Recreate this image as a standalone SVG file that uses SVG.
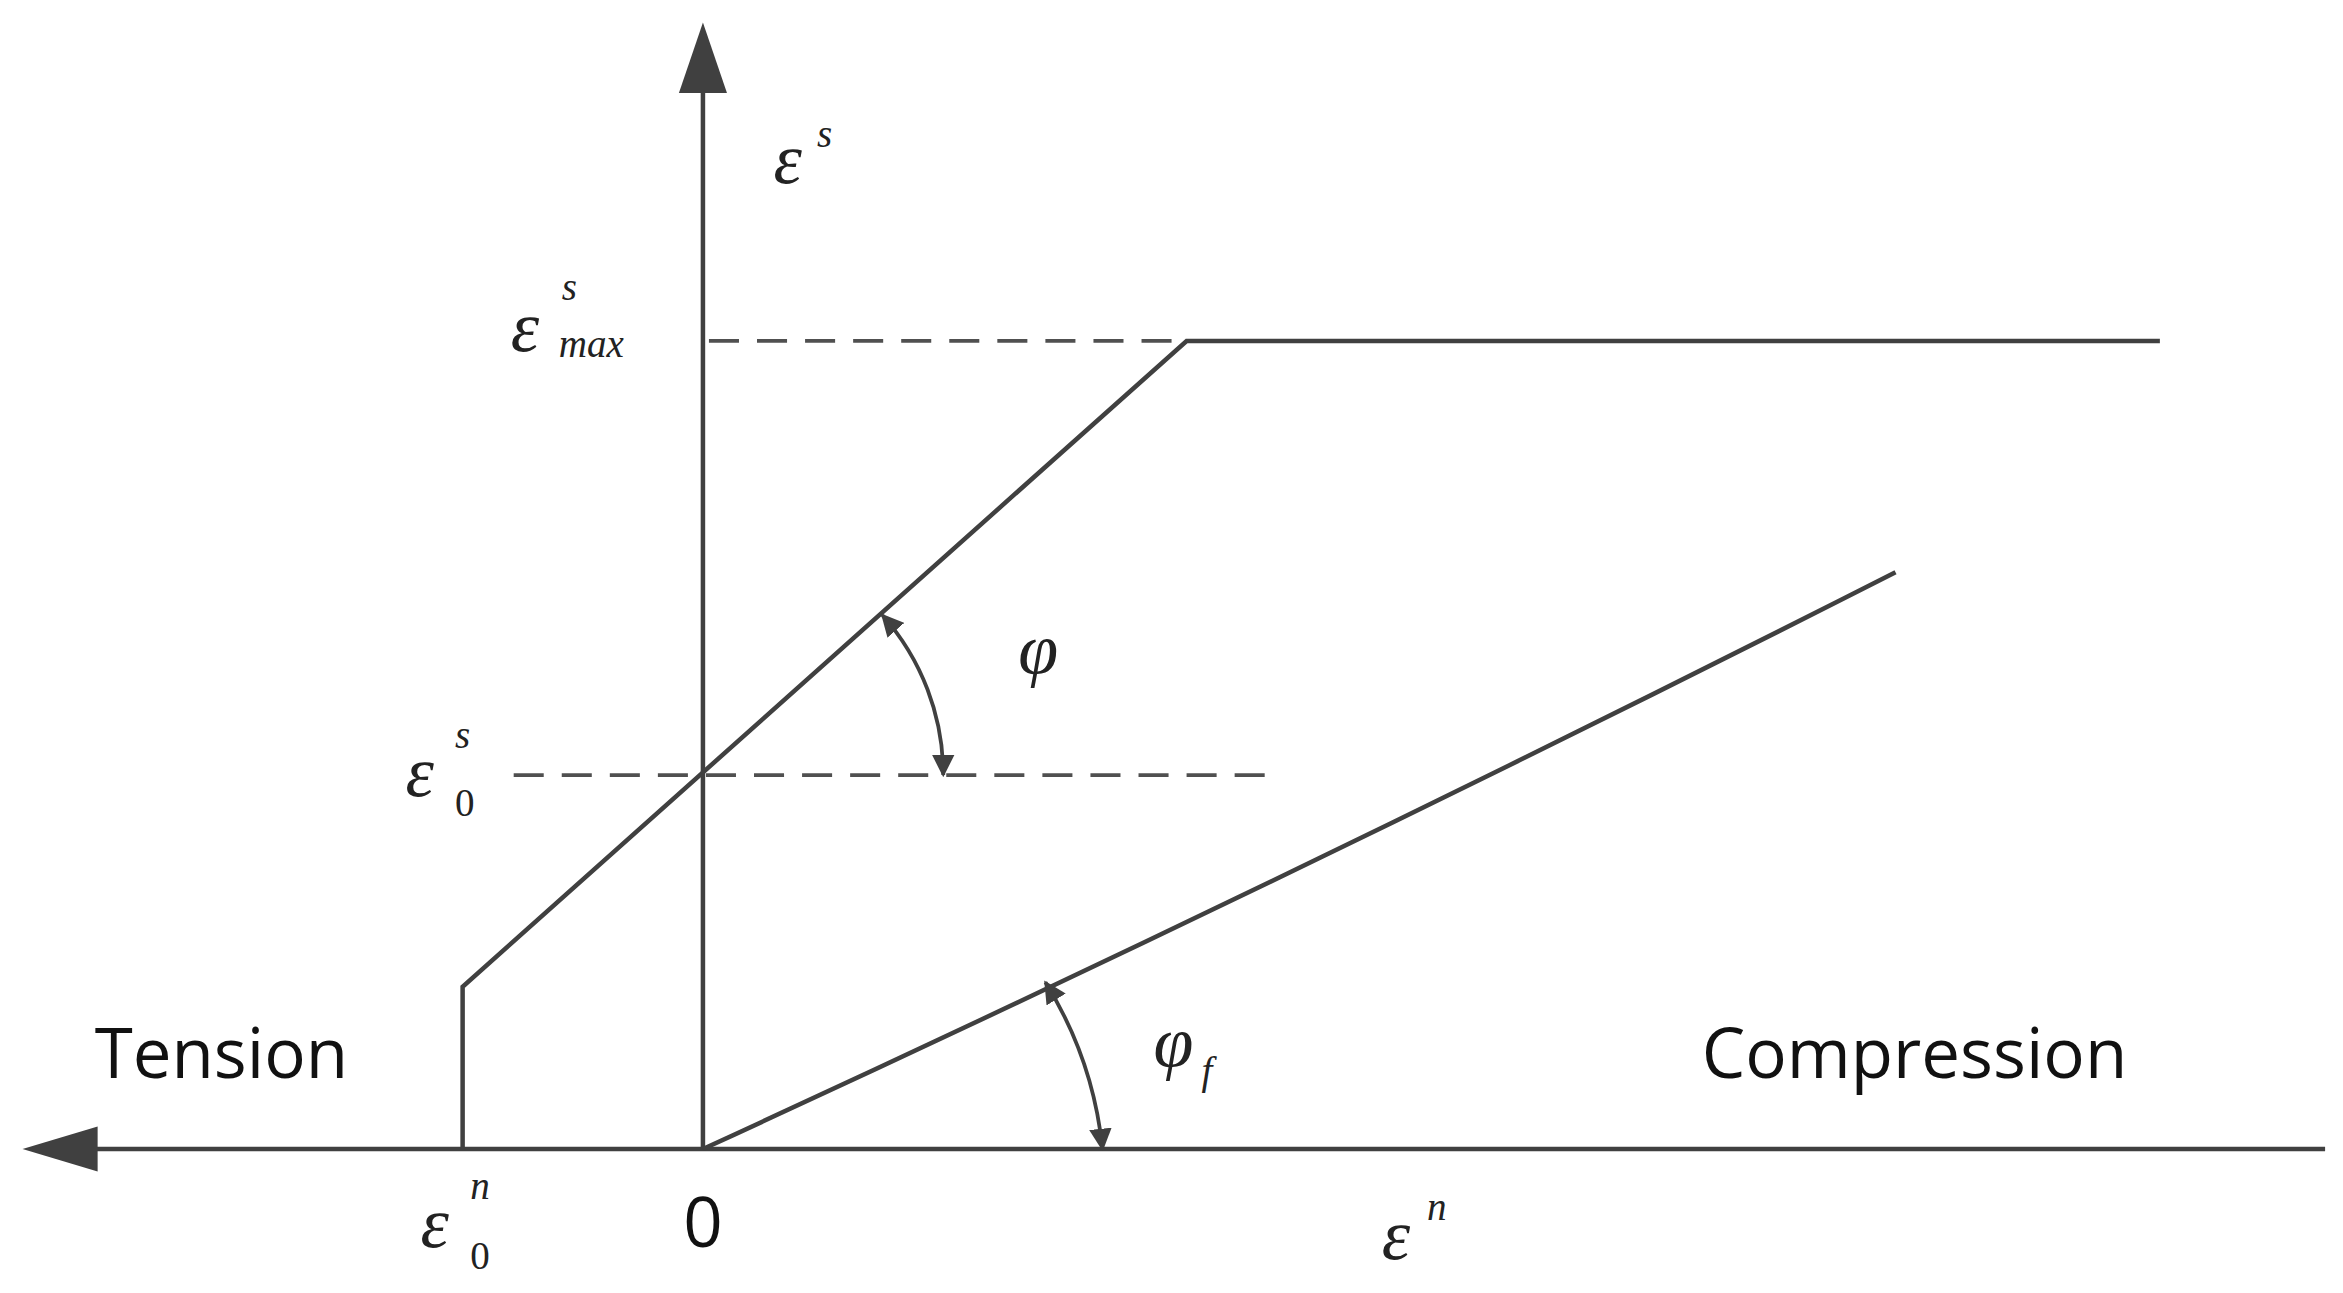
<svg xmlns="http://www.w3.org/2000/svg" width="2343" height="1293" viewBox="0 0 2343 1293">
<style>
.ln{stroke:#404040;stroke-width:3;fill:none}
.arc{stroke:#404040;stroke-width:2.5;fill:none}
.dash{stroke:#505050;stroke-width:2.5;fill:none;stroke-dasharray:20 12}
.m{font-family:"Liberation Serif",serif;font-style:italic;fill:#222;font-size:48px}
.s{font-family:"Liberation Serif",serif;font-style:italic;fill:#222;font-size:26px}
.n{font-family:"Liberation Serif",serif;fill:#222;font-size:26px}
.t{font-family:"Open Sans","Noto Sans",sans-serif;fill:#111;font-size:46px}
</style>
<defs>
<marker id="ah" viewBox="0 0 10 10" refX="9" refY="5" markerWidth="6" markerHeight="6" markerUnits="strokeWidth" orient="auto-start-reverse">
<path d="M0,0 L10,5 L0,10 z" fill="#404040"/>
</marker>
</defs>
<rect width="2343" height="1293" fill="#fff"/>
<g transform="scale(1.502)">
<g id="connectors">
<line class="ln" x1="468" y1="765" x2="468" y2="60"/>
<polygon points="468,15 452,62 484,62" fill="#404040"/>
<line class="ln" x1="60" y1="765" x2="1548" y2="765"/>
<polygon points="15,765 65,750 65,780" fill="#404040"/>
<line class="dash" x1="472" y1="227" x2="790" y2="227"/>
<line class="dash" x1="342" y1="516" x2="850" y2="516"/>
<polyline class="ln" points="308,765 308,657 790,227 1438,227"/>
<path class="ln" d="M468,765 Q860,585 1262,381"/>
<path class="arc" d="M587.5,409.6 A160,160 0 0 1 628,516" marker-start="url(#ah)" marker-end="url(#ah)"/>
<path class="arc" d="M696,654 A260,260 0 0 1 734,765" marker-start="url(#ah)" marker-end="url(#ah)"/>
</g>
<g id="label-es"><text class="m" x="515" y="122">ε</text><text class="s" x="544" y="98">s</text></g>
<g id="label-esmax"><text class="m" x="340" y="234">ε</text><text class="s" x="374" y="200">s</text><text class="s" x="372" y="238">max</text></g>
<g id="label-e0s"><text class="m" x="270" y="530">ε</text><text class="s" x="303" y="498">s</text><text class="n" x="303" y="543">0</text></g>
<g id="label-phi"><text class="m" x="678" y="448">φ</text></g>
<g id="label-phif"><text class="m" x="768" y="710">φ</text><text class="s" x="800" y="722">f</text></g>
<g id="label-tension"><text class="t" x="63" y="718">Tension</text></g>
<g id="label-compression"><text class="t" x="1133" y="718">Compression</text></g>
<g id="label-e0n"><text class="m" x="280" y="830">ε</text><text class="s" x="313" y="798">n</text><text class="n" x="313" y="845">0</text></g>
<g id="label-zero"><text class="t" x="468" y="830" text-anchor="middle">0</text></g>
<g id="label-en"><text class="m" x="920" y="838">ε</text><text class="s" x="950" y="812">n</text></g>
</g>
</svg>
